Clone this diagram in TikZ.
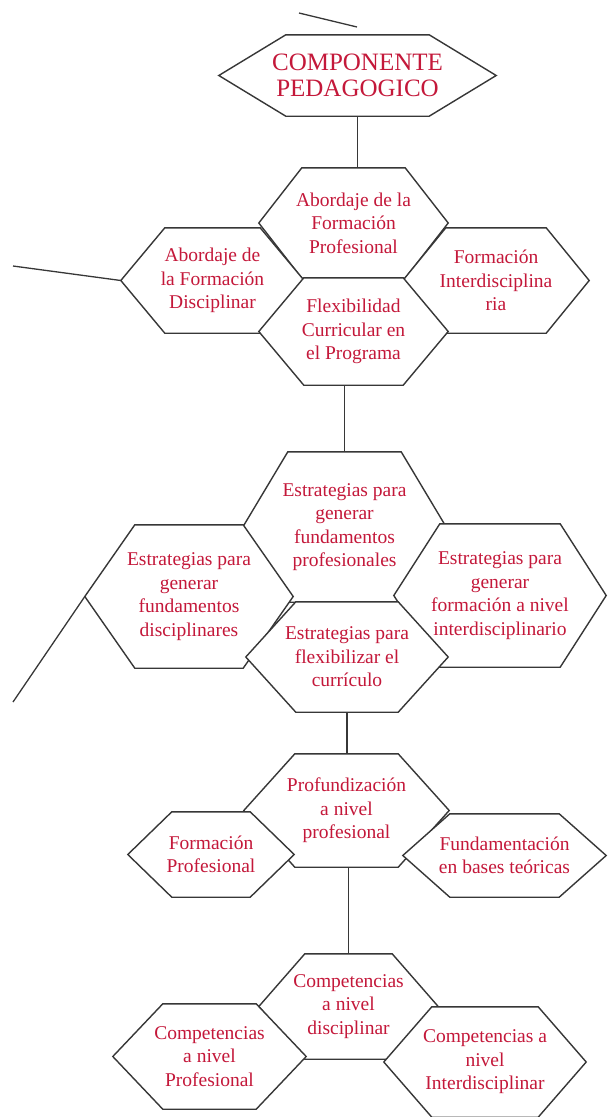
\documentclass[tikz,border=0pt]{standalone}
\usepackage{fontspec}
\setmainfont{Liberation Serif}
\usetikzlibrary{backgrounds}
\definecolor{textred}{RGB}{196,24,58}
\definecolor{linegray}{RGB}{55,55,55}
\tikzset{
  hexa/.style 2 args={rectangle, inner sep=0pt, minimum width=#1, minimum height=#2,
    align=center, text=textred, font=\fontsize{19.5}{23.5}\selectfont},
  hexline/.style={draw=linegray, fill=white, line width=1.4pt, line join=miter},
  conn/.style={draw=linegray, line width=1.3pt}
}

\begin{document}
\begin{tikzpicture}[x=1pt, y=-1pt]
    \useasboundingbox (0,0) rectangle (608,1117);
    % componente
    \node[hexa={277}{81}, font=\fontsize{25}{26}\selectfont] (comp) at (357.5,75.5) {COMPONENTE\\PEDAGOGICO};
    % primer grupo
    \node[hexa={189}{110}] (abpro) at (353.5,223) {Abordaje de la\\Formación\\Profesional};
    \node[hexa={183}{105}] (abdis) at (212.5,280.5) {Abordaje de\\la Formación\\Disciplinar};
    \node[hexa={186}{105}] (forint) at (496,280.5) {Formación\\Interdisciplina\\ria};
    \node[hexa={189}{107}] (flex) at (353.5,331.5) {Flexibilidad\\Curricular en\\el Programa};
    % estrategias
    \node[hexa={203}{150}] (estpro) at (344.5,527) {Estrategias para\\generar\\fundamentos\\profesionales};
    \node[hexa={208}{143}] (estdis) at (189,596.5) {Estrategias para\\generar\\fundamentos\\disciplinares};
    \node[hexa={212}{143}] (estint) at (500,595.5) {Estrategias para\\generar\\formación a nivel\\interdisciplinario};
    \node[hexa={202}{110}] (estflex) at (347,657) {Estrategias para\\flexibilizar el\\currículo};
    % profundizacion
    \node[hexa={205}{113}] (profun) at (346.5,810.5) {Profundización\\a nivel\\profesional};
    \node[hexa={166}{85}] (formpro) at (211,854.5) {Formación\\Profesional};
    \node[hexa={203}{83}] (fundam) at (504.5,855.5) {Fundamentación\\en bases teóricas};
    % competencias
    \node[hexa={179}{105}] (compdis) at (348.5,1006.5) {Competencias\\a nivel\\disciplinar};
    \node[hexa={193}{105}] (comppro) at (209.5,1056.5) {Competencias\\a nivel\\Profesional};
    \node[hexa={202}{110}] (compint) at (485,1062) {Competencias a\\nivel\\Interdisciplinar};

    % bordes hexagonales (detras del texto)
    \begin{scope}[on background layer]
    \foreach \n/\c in {comp/67, abpro/43, abdis/44, forint/43, flex/45,
                       estpro/45, estdis/50, estint/46, estflex/50,
                       profun/51, formpro/44, fundam/47,
                       compdis/46, comppro/50, compint/48}
      \draw[hexline] (\n.west) -- ([xshift=\c]\n.north west) -- ([xshift=-\c]\n.north east)
        -- (\n.east) -- ([xshift=-\c]\n.south east) -- ([xshift=\c]\n.south west) -- cycle;
    \end{scope}

    % conectores
    \coordinate (arribaA) at (299,13);
    \coordinate (arribaB) at (357,27);
    \coordinate (izqA) at (13,266);
    \coordinate (izqB) at (13,702);
    \draw[conn] (arribaA) -- (arribaB);
    \draw[conn] (comp.south) -- (comp.south |- abpro.north);
    \draw[conn] (izqA) -- (abdis.west);
    \draw[conn] (estpro.north |- flex.south) -- (estpro.north);
    \draw[conn] (izqB) -- (estdis.west);
    \draw[conn] (estflex.south) -- (estflex.south |- profun.north);
    \draw[conn] (compdis.north |- profun.south) -- (compdis.north);
\end{tikzpicture}
\end{document}
